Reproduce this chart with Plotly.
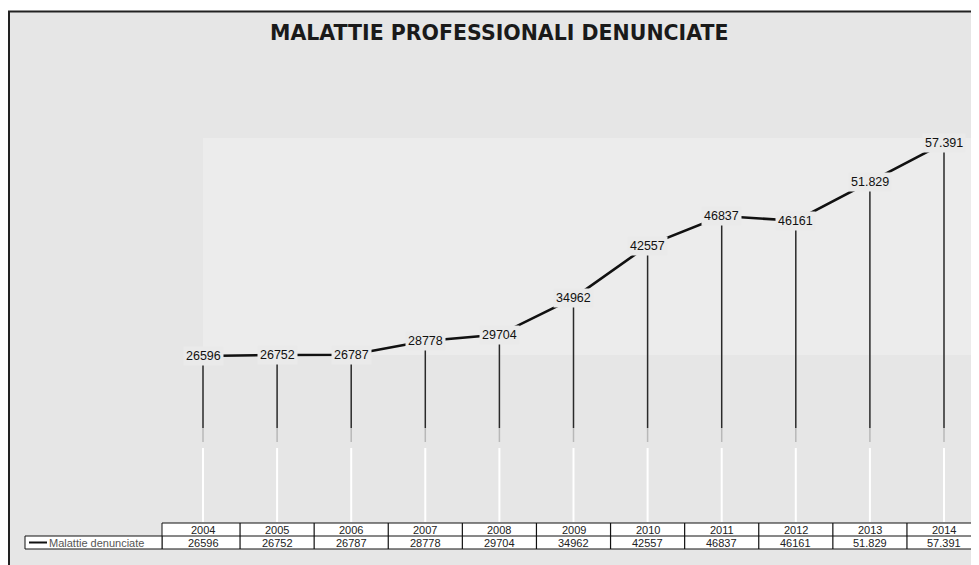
import plotly.graph_objects as go

# ---- data ----
years = ["2004", "2005", "2006", "2007", "2008", "2009", "2010", "2011", "2012", "2013", "2014"]
values = [26596, 26752, 26787, 28778, 29704, 34962, 42557, 46837, 46161, 51829, 57391]
value_labels = ["26596", "26752", "26787", "28778", "29704", "34962", "42557", "46837", "46161", "51.829", "57.391"]
series_name = "Malattie denunciate"
title_text = "MALATTIE PROFESSIONALI DENUNCIATE"

# the page body has an 8px margin, so the figure is drawn from screen (8, 8)
OFF = 8
W, H = 979 - OFF, 565 - OFF
FONT = "Liberation Sans, Arial, sans-serif"


def py(p):  # screen pixel y -> paper y
    return 1 - (p - OFF) / H


def pxx(p):  # screen pixel x -> paper x
    return (p - OFF) / W


# y scale: 0 at screen pixel 540, slope 0.0069167 px per unit
Y_MAX = 70000
SLOPE = 0.0069167
y_zero_px = 540.0
y_top_px = y_zero_px - Y_MAX * SLOPE

# x scale: category 0 at screen 203, step 74.1 px
X0_PX, STEP = 203.0, 74.1
x_left_px = X0_PX - 0.5 * STEP
x_right_val = -0.5 + (979 - x_left_px) / STEP


def val_at(p):  # screen pixel y -> data value
    return (y_zero_px - p) / SLOPE


xs = list(range(len(years)))

fig = go.Figure()

# drop lines: dark upper part, grey fade, white lower part
dark_x, dark_y, mid_x, mid_y, wht_x, wht_y = [], [], [], [], [], []
for i, v in zip(xs, values):
    dark_x += [i, i, None]
    dark_y += [v, val_at(428), None]
    mid_x += [i, i, None]
    mid_y += [val_at(428), val_at(442), None]
    wht_x += [i, i, None]
    wht_y += [val_at(448), val_at(522), None]

fig.add_trace(go.Scatter(x=dark_x, y=dark_y, mode="lines",
                         line=dict(color="#2a2a2a", width=1.5), hoverinfo="skip", showlegend=False))
fig.add_trace(go.Scatter(x=mid_x, y=mid_y, mode="lines",
                         line=dict(color="#b8b8b8", width=1.5), hoverinfo="skip", showlegend=False))
fig.add_trace(go.Scatter(x=wht_x, y=wht_y, mode="lines",
                         line=dict(color="#ffffff", width=2), hoverinfo="skip", showlegend=False))

# main line
fig.add_trace(go.Scatter(x=xs, y=values, mode="lines", name=series_name,
                         line=dict(color="#111111", width=2.6), showlegend=False))

shapes = []
annotations = []

# outer grey frame
shapes.append(dict(type="rect", xref="paper", yref="paper", x0=pxx(8), x1=1.01, y0=-0.01, y1=py(11),
                   fillcolor="#e6e6e6", line=dict(width=0), layer="below"))
shapes.append(dict(type="line", xref="paper", yref="paper", x0=pxx(9), x1=pxx(9), y0=-0.01, y1=py(11),
                   line=dict(color="#222222", width=2), layer="below"))
shapes.append(dict(type="line", xref="paper", yref="paper", x0=pxx(8), x1=1.01, y0=py(11.5), y1=py(11.5),
                   line=dict(color="#222222", width=2), layer="below"))
# lighter back wall
shapes.append(dict(type="rect", xref="paper", yref="paper", x0=pxx(203), x1=1.01, y0=py(355), y1=py(138),
                   fillcolor="#ececec", line=dict(width=0), layer="below"))

# data table
t_top, t_mid, t_bot = 523, 536, 549
shapes.append(dict(type="rect", xref="paper", yref="paper", x0=pxx(162), x1=1.01, y0=py(t_bot), y1=py(t_top),
                   fillcolor="#ffffff", line=dict(color="#111111", width=1), layer="below"))
shapes.append(dict(type="rect", xref="paper", yref="paper", x0=pxx(25), x1=pxx(162), y0=py(t_bot), y1=py(t_mid),
                   fillcolor="#ffffff", line=dict(color="#111111", width=1), layer="below"))
shapes.append(dict(type="line", xref="paper", yref="paper", x0=pxx(162), x1=1.01, y0=py(t_mid), y1=py(t_mid),
                   line=dict(color="#111111", width=1), layer="below"))
for i in xs[1:]:
    shapes.append(dict(type="line", xref="x", yref="paper", x0=i - 0.5, x1=i - 0.5, y0=py(t_bot), y1=py(t_top),
                       line=dict(color="#111111", width=1.2), layer="below"))
# legend sample line
shapes.append(dict(type="line", xref="paper", yref="paper", x0=pxx(29), x1=pxx(47), y0=py(542.5), y1=py(542.5),
                   line=dict(color="#111111", width=2), layer="above"))

for i, (yr, lab) in enumerate(zip(years, value_labels)):
    annotations.append(dict(x=i, y=py((t_top + t_mid) / 2), xref="x", yref="paper", text=yr,
                            xanchor="center", yanchor="middle",
                            showarrow=False, font=dict(family=FONT, size=11, color="#222222")))
    annotations.append(dict(x=i, y=py((t_mid + t_bot) / 2), xref="x", yref="paper", text=lab,
                            xanchor="center", yanchor="middle",
                            showarrow=False, font=dict(family=FONT, size=11, color="#222222")))

annotations.append(dict(x=pxx(47), y=py(542.5), xref="paper", yref="paper", text=series_name,
                        xanchor="left", yanchor="middle", showarrow=False,
                        font=dict(family=FONT, size=11, color="#555555")))

# point labels
for i, (v, lab) in enumerate(zip(values, value_labels)):
    annotations.append(dict(x=i, y=v, xref="x", yref="y", text=lab, showarrow=False,
                            xanchor="center", yanchor="middle",
                            bgcolor="#eaeaea", borderpad=2,
                            font=dict(family=FONT, size=12.5, color="#111111")))

# title
annotations.append(dict(x=pxx(499), y=py(33), xref="paper", yref="paper", text="<b>" + title_text + "</b>",
                        xanchor="center", yanchor="middle", showarrow=False,
                        font=dict(family="DejaVu Sans, sans-serif", size=20.5, color="#1a1a1a")))

fig.update_layout(
    width=W, height=H, autosize=False,
    margin=dict(l=0, r=0, t=0, b=0),
    paper_bgcolor="#ffffff", plot_bgcolor="rgba(0,0,0,0)",
    xaxis=dict(domain=[pxx(x_left_px), 1], range=[-0.5, x_right_val], visible=False, fixedrange=True),
    yaxis=dict(domain=[py(y_zero_px), py(y_top_px)], range=[0, Y_MAX], visible=False, fixedrange=True),
    shapes=shapes, annotations=annotations, showlegend=False,
)

fig.write_html("out.html")
